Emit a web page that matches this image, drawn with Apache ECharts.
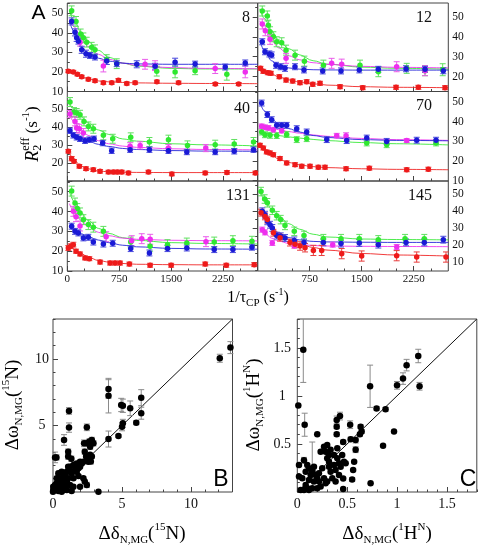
<!DOCTYPE html>
<html><head><meta charset="utf-8">
<script src="https://cdn.jsdelivr.net/npm/echarts@6/dist/echarts.min.js"></script>
<style>html,body{margin:0;padding:0;background:#fff}#c{width:480px;height:554px}</style>
</head><body><div id="c"></div>
<script>
// ---------------- DATA ----------------
// Panel A : [1/tauCP, R2eff, error]
const panelNames = ['8','12','40','70','131','145'];
const xTickLabelsLeft = [0, 750, 1500, 2250];
const xTickLabelsRight = [750, 1500, 2250];
const curveX = [30, 100, 200, 300, 450, 600, 800, 1000, 1500, 2000, 2750];

const p8R = [[15,20.4,0.8],[87,20.0,0.8],[145,18.8,0.8],[208,17.5,0.8],[304,16.2,0.8],[400,15.5,0.8],[521,14.5,0.8],[642,14.5,0.8],[738,15.8,0.8],[859,14.1,0.8],[980,14.5,0.8],[1294,15,0.8],[1607,14.5,0.8],[2138,13.8,0.8],[2475,13.8,0.8]];
const p8G = [[63,51.2,2.5],[126,45.8,2.5],[193,39.4,2.5],[232,37.4,2.5],[280,35.2,2.5],[352,32.6,2.5],[400,31.3,2.5],[569,26.3,2.5],[714,24.2,2.5],[1292,20.4,2.5],[1557,20,3],[1846,20.6,2],[2304,18.8,3]];
const p8M = [[184,35.2,2],[521,23,3],[1123,23.9,2.5],[1268,23.2,2.5],[2136,21.7,2.5],[2570,20,3]];
const p8B = [[63,45.8,1.8],[111,40.2,1.8],[135,37.4,1.8],[160,35.7,1.5],[208,31.3,1.8],[270,29.3,1.8],[328,28.4,1.5],[400,27.6,1.5],[569,25.6,1.8],[714,24.2,1.5],[1003,23.9,1.8],[1268,22.9,1.5],[1557,25,2],[1846,24,1.5],[2281,22.5,1.5],[2570,24.6,1.5]];
const c8R = [20.3,19.3,17.8,16.5,15.4,14.9,14.6,14.4,14.2,14.1,14];
const c8G = [51,46.5,40,35.5,31,27.5,24.5,23,21.8,21.5,21.5];
const c8M = [47,43,37,33,29,26.5,24.5,23.3,22.2,21.8,21.6];
const c8B = [46,40.5,33,29.5,27,25.5,24.5,24.1,23.9,23.9,23.9];

const p12R = [[40,24.2,1],[80,22.7,1],[145,22,1],[190,21.7,1],[312,20,1],[409,18.3,1],[505,17.8,1],[610,17,1],[707,17.5,1],[794,16.2,1],[899,16.7,1],[1188,15,1],[1515,14.5,1],[1996,14.7,1],[2318,14.7,1],[2703,14.5,1]];
const p12G = [[66,52.9,2.5],[139,50.4,2.5],[154,45.8,2.5],[178,42.5,2.5],[226,40,2.5],[274,37.5,2.5],[346,37,2.5],[409,33.3,2.5],[539,30.8,2.5],[674,27.8,2.5],[948,25.8,2.5],[1476,25.8,2.5],[1741,22.5,2.5],[2150,24.2,2.5],[2414,23,2.5],[2669,23.5,3]];
const p12M = [[66,46.4,2.5],[110,43,2.5],[178,38.7,2.5],[409,29.2,2.5],[1067,26.7,2.5],[1212,26.3,2.5],[2005,25,2.5],[2414,23,2.5]];
const p12B = [[66,37.5,1.5],[105,32.5,1.5],[168,31.4,1.5],[202,30.9,1.5],[264,25.7,1.5],[332,25,1.5],[394,24.2,1.5],[538,25,1.5],[668,23.4,1.5],[938,22.9,1.5],[1202,22.9,1.5],[1466,23.4,1.5],[1740,23.7,1.5],[2140,24,1.5],[2414,23.7,1.5],[2678,23,1.5]];
const c12R = [24.5,23,21.3,20,18.4,17.4,16.5,15.8,15,14.7,14.5];
const c12G = [54,49,43,38.5,34,31,28,26.3,24.8,24.2,23.8];
const c12M = [48,43.5,38,34.5,30.5,28.5,27,26.2,25.2,24.7,24.4];
const c12B = [38,33,28,25.8,24.4,23.8,23.5,23.4,23.3,23.3,23.3];

const p40R = [[15,26.6,1],[63,22.5,1.2],[97,21,1],[174,18.2,1],[270,16.9,1],[376,16.3,1],[473,15.4,1],[594,15,1],[666,15,1],[724,15,1],[787,15,1],[883,14.5,1],[1172,15,1],[1510,13.9,1],[1992,14.5,1],[2306,14.8,1],[2716,14.5,1]];
const p40G = [[39,54.1,2.5],[97,48.5,2.5],[135,48,2.5],[184,47,2.5],[241,43.3,2.5],[304,40.5,2.5],[376,39.2,2.5],[521,35.5,2.5],[656,33.6,2.5],[916,34.4,2.5],[1186,31.8,2.5],[1461,33.1,2.5],[1736,29.9,2.5],[2136,30.3,2.5],[2411,30.7,2.5],[2690,31.8,2.5]];
const p40M = [[39,47.4,2],[111,43.3,2.5],[135,39.6,2.5],[174,39.2,2.5],[232,36.8,2.5],[907,29.4,2],[1052,29.9,2],[1461,28.4,2],[2000,28.4,2]];
const p40B = [[39,38.1,1.5],[87,35.5,1.5],[135,34.4,1.5],[184,33.6,1.5],[256,32.5,1.5],[318,33.1,1.5],[386,33.6,1.5],[511,31.2,1.5],[641,26.9,1.5],[907,27.5,1.5],[1186,27.5,1.5],[1461,26.9,1.5],[1726,26.2,1.5],[2136,26.2,1.5],[2411,26.6,1.5],[2690,27.5,1.5]];
const c40R = [26,21.5,18.3,16.8,15.6,15.1,14.9,14.8,14.7,14.7,14.7];
const c40G = [53.5,50,46,42.5,38.5,36,33.5,32.3,30.8,30.2,29.6];
const c40M = [47,43,38.5,35.5,32.5,30.8,29.5,28.8,28,27.6,27.4];
const c40B = [37.5,35.8,33.8,32.3,30.5,29.3,28.2,27.6,27,26.7,26.6];

const p70R = [[33,28,1],[81,26.6,1],[129,24.6,1],[178,24.1,1],[226,23.2,1],[322,21.2,1],[418,19,1],[539,18.1,1],[635,17.3,1],[755,17.3,1],[875,16.8,1],[971,16.8,1],[1275,16,1],[1611,16.3,1],[2150,15.5,1],[2462,15.8,1]];
const p70G = [[57,34.8,1.5],[105,33.4,1.5],[178,33.1,1.5],[274,33,1.5],[418,33.5,1.5],[563,30.9,1.5],[707,31.4,1.5],[1573,29.2,1.5],[1861,28.3,1.5],[2573,29.2,1.5]];
const p70M = [[57,37.7,1.2],[105,37.2,1.2],[154,36.9,1.2],[226,36,1.2],[346,35.5,1.2],[1140,32.9,1.2],[1275,32.9,1.5],[2150,30.4,1]];
const p70B = [[57,49.6,1.5],[139,43.7,1.5],[202,41.1,1.5],[274,38.2,1.5],[346,38.2,1.5],[418,38.2,1.5],[563,36.5,1.5],[707,34.8,1.5],[996,30.9,1.5],[1284,30.4,1.5],[1573,31.7,1.5],[1861,30,1.5],[2294,30.6,1.5],[2573,30.6,1.5]];
const c70R = [28.5,26,23,21,19.2,18,17.1,16.6,16,15.7,15.5];
const c70G = [35,34.3,33.5,33,32.3,31.7,31,30.4,29.4,28.8,28.2];
const c70M = [38.5,37.8,36.8,36,35,34.2,33.3,32.6,31.5,30.9,30.5];
const c70B = [50,45.5,41.5,39,36.5,34.8,33,32,30.9,30.5,30.3];

const p131R = [[15,21.6,1.2],[48,22.5,1.2],[87,23.3,1.2],[126,20,1],[184,18.6,1],[256,16.6,1],[318,16.2,1],[473,14.5,1],[618,14,1],[690,14,1],[762,14,1],[897,13.5,1],[1196,12.9,1],[1500,12.9,1],[1992,13.5,1],[2296,12.9,1],[2700,13.2,1]];
const p131G = [[63,50.3,2.5],[111,44.3,2.5],[145,41.5,2.5],[184,39.3,2.5],[232,35.9,2.5],[304,33.4,2.5],[376,32.1,2.5],[521,30,2.5],[916,24.6,2.5],[1196,22.5,2.5],[1447,23.3,2.5],[1726,24.1,2.5],[2122,24.6,2.5],[2392,25.3,2.5],[2667,25,2.5]];
const p131M = [[87,40.1,2.5],[126,37.4,2.5],[184,32.7,2.5],[561,27.3,2.5],[930,25.3,2.5],[1075,26.3,2.5],[1197,26,2.5],[2003,24.8,2.5]];
const p131B = [[63,32.6,1.5],[111,30,1.5],[160,29.2,1.5],[232,26.7,1.5],[304,27,1.5],[376,24.6,1.5],[521,23.6,1.5],[656,24,1.5],[916,21.3,1.5],[1186,19.1,1.5],[1447,21.3,1.5],[1726,21.6,1.5],[2122,20.8,1.5],[2392,20.8,1.5],[2667,22,1.5]];
const c131R = [22.5,21,18.8,17,15.3,14.5,13.8,13.4,13.2,13.1,13.1];
const c131G = [50,45,39.5,35.5,31.5,29,26.8,25.5,24.3,23.9,23.6];
const c131M = [44,40,35.5,32.5,29.5,27.8,26.6,26,25.5,25.3,25.2];
const c131B = [32,30.5,28.8,27.3,25.6,24.3,23,22.2,21.4,21.1,21];

const p145R = [[48,39,2],[105,36.8,2],[139,34.9,2],[226,27.2,2],[322,24.3,2],[466,21.4,2],[539,20.4,2],[611,19.4,2.5],[683,18.4,2.5],[803,16.8,3],[923,16.8,3],[1212,14.9,3],[1500,13.5,3],[2005,13.7,3],[2294,12.9,3],[2717,12.9,3]];
const p145G = [[48,51.4,2.5],[100,47,2.5],[139,44.8,2.5],[211,40.4,2.5],[274,37.2,2.5],[332,34.9,2.5],[394,31.5,2.5],[528,28,2.5],[668,25.6,2.5],[947,23.7,2.5],[1202,23.7,2.5],[1466,23.7,2.5],[1740,23,2.5],[2126,23.7,2.5],[2404,23.7,2.5]];
const p145M = [[66,29,1.5],[105,27.4,1.5],[211,21.2,1.5],[528,19.6,1.5],[1082,20.2,1.5],[2006,18.8,1.5]];
const p145B = [[66,39.8,2],[105,37.8,2],[139,33.9,2],[178,31.9,2],[211,30,2],[274,25.5,2],[332,25.1,2],[394,24.1,2],[528,22.7,2],[668,21.5,2],[947,21.5,2],[1202,20.8,2],[1466,21.2,2],[1740,20.2,2],[2140,21.5,2],[2404,21.5,2],[2678,23.1,2]];
const c145R = [40,36.5,31,27.3,23.3,20.8,18.5,17,15,14.1,13.5];
const c145G = [51.5,47,41,37,32.5,29.3,26.3,24.7,23.5,23.2,23];
const c145M = [30,27,24,22.3,20.9,20.2,19.7,19.4,19.2,19.1,19];
const c145B = [41,35.5,30,27,24.3,23,22.1,21.8,21.6,21.5,21.5];

// Panel B : [delta_delta(15N), delta_omega(15N), error]
const pointsB = [[12.85,10.85,0.45],[12.08,10.05,0.3],[4.02,7.74,0.7],[4.02,7.24,1.3],[4.94,6.54,0.5],[5.06,6.48,0.5],[5.59,6.29,0.55],[6.39,7.09,0.6],[6.39,5.92,0.45],[6.03,5.21,0.15],[5.06,5.16,0.3],[5.0,4.9,0.3],[4.74,4.21,0.1],[4.02,3.98,0.6],[1.16,6.09,0.25],[1.16,4.84,0.35],[2.45,4.86,0.25],[0.8,3.91,0.4],[0.15,2.6,0.4],[0.25,2.6,0.2],[1.1,3.03,0.2],[1.1,2.66,0.2],[1.33,2.5,0.2],[2.25,3.66,0.25],[2.45,3.66,0.2],[2.64,3.79,0.2],[2.81,3.91,0.2],[2.93,3.66,0.2],[2.69,3.4,0.2],[2.3,3.03,0.2],[2.4,2.66,0.2],[2.55,2.5,0.2],[2.74,2.3,0.2],[3.29,0.02,0],
 [1.23,1.9,0.1],[1.48,2.03,0.1],[1.72,2.15,0.1],[1.96,2.28,0.1],[2.08,2.15,0.1],[2.2,2.28,0.1],[1.84,1.78,0.1],[1.6,1.65,0.1],[1.23,1.53,0.1],[1.0,1.53,0.1],[0.87,1.28,0.1],[0.75,1.15,0.1],[0.63,1.03,0.1],[0.51,0.9,0.1],[0.39,0.78,0.1],[0.27,0.65,0.1],[0.15,0.53,0.1],[0.02,0.4,0.1],[0.02,0.15,0],[0.15,0.15,0],[0.51,0.28,0],[0.87,0.4,0],[1.23,0.53,0],[1.48,1.03,0.1],[1.84,1.2,0.1],[2.2,1.03,0.1],[1.48,0.4,0],[0.75,0.15,0],[1.35,0.08,0],[1.96,0.4,0],[2.3,0.78,0],[2.45,0.53,0.2],[0.27,1.03,0.1],[0.39,1.4,0.1],[0.63,1.53,0.1],[1.1,1.03,0.1],[1.0,0.78,0],[0.75,0.65,0],[0.51,0.53,0],[0.27,0.28,0],[1.1,1.9,0.1],[1.35,1.4,0.1],[1.72,1.53,0.1],[1.96,1.9,0.1],[2.55,2.28,0.1],[2.69,2.8,0.1],[2.81,2.66,0.1],[1.0,0.15,0],[0.63,0.02,0],[0.0,0.02,0],[0.39,0.08,0],[0.87,0.78,0]];
const diagB = [[0,0],[13,13]];

// Panel C : [delta_delta(1HN), delta_omega(1HN), error]
const pointsC = [[0.06,1.48,0.34],[0.01,0.9,0],[0.074,0.70,0.12],[0.73,1.10,0.22],[0.795,0.87,0.02],[0.885,0.86,0.02],[1.0,1.11,0.04],[1.06,1.18,0.06],[1.096,1.32,0.06],[1.213,1.415,0.07],[1.226,1.10,0.04],[0.97,0.63,0],[0.86,0.48,0],[0.735,0.09,0],[0.635,0.68,0.02],[0.645,0.63,0.02],[0.628,0.6,0.02],[0.53,0.70,0.04],[0.428,0.79,0.04],[0.395,0.75,0.04],[0.395,0.68,0.02],[0.395,0.6,0.02],[0.46,0.52,0.02],[0.585,0.44,0.03],[0.585,0.54,0.03],[0.535,0.55,0.02],[0.2,0.6,0],[0.56,0.23,0],[0.55,0.13,0.02],[0.46,0.14,0],[0.46,0.03,0],[0.15,0.22,0.3],
 [0.017,0.28,0],[0.017,0.16,0],[0.067,0.33,0.03],[0.1,0.28,0],[0.117,0.246,0],[0.05,0.142,0],[0.084,0.073,0],[0.134,0.177,0],[0.15,0.21,0],[0.167,0.108,0],[0.2,0.142,0],[0.217,0.194,0],[0.234,0.42,0],[0.25,0.246,0],[0.268,0.47,0],[0.284,0.42,0],[0.3,0.49,0],[0.318,0.385,0],[0.318,0.316,0],[0.334,0.21,0],[0.351,0.142,0],[0.284,0.09,0],[0.234,0.056,0],[0.2,0.038,0],[0.15,0.038,0],[0.1,0.038,0],[0.067,0.02,0],[0.034,0.02,0],[0.368,0.28,0],[0.384,0.23,0],[0.401,0.35,0],[0.418,0.3,0],[0.435,0.264,0],[0.468,0.316,0],[0.485,0.3,0],[0.401,0.454,0],[0.418,0.177,0],[0.3,0.108,0],[0.268,0.142,0],[0.184,0.177,0],[0.334,0.44,0],[0.368,0.385,0],[0.3,0.35,0],[0.45,0.385,0],[0.318,0.264,0],[0.217,0.108,0],[0.167,0.264,0],[0.084,0.21,0],[0.117,0.125,0],[0.384,0.108,0],[0.57,0.316,0],[0.117,0.02,0]];
const diagC = [[0,0],[1.8,1.8]];

// ---------------- LAYOUT / STYLE ----------------
const SERIF = '"Liberation Serif", "Times New Roman", serif';
const SANS = '"Liberation Sans", Arial, sans-serif';
const colors = {G:'#2fe82f', M:'#ee2eee', B:'#1a1ad6', R:'#ee1a1a'};
const errColors = {G:'#5fe05f', M:'#ea5cea', B:'#4848dc', R:'#e83c3c'};
const order = ['G','M','B','R'];
const AX = '#444';

const panelDefs = [
  {name:'8',   pts:{R:p8R,G:p8G,M:p8M,B:p8B},       cur:{R:c8R,G:c8G,M:c8M,B:c8B},       col:0,row:0,ymin:10,ymax:55.2,yLab:[10,20,30,40,50]},
  {name:'12',  pts:{R:p12R,G:p12G,M:p12M,B:p12B},   cur:{R:c12R,G:c12G,M:c12M,B:c12B},   col:1,row:0,ymin:12.6,ymax:56.9,yLab:[20,30,40,50]},
  {name:'40',  pts:{R:p40R,G:p40G,M:p40M,B:p40B},   cur:{R:c40R,G:c40G,M:c40M,B:c40B},   col:0,row:1,ymin:10,ymax:60,yLab:[20,30,40,50]},
  {name:'70',  pts:{R:p70R,G:p70G,M:p70M,B:p70B},   cur:{R:c70R,G:c70G,M:c70M,B:c70B},   col:1,row:1,ymin:9.75,ymax:55.5,yLab:[10,20,30,40,50]},
  {name:'131', pts:{R:p131R,G:p131G,M:p131M,B:p131B}, cur:{R:c131R,G:c131G,M:c131M,B:c131B}, col:0,row:2,ymin:10,ymax:55.4,yLab:[10,20,30,40,50]},
  {name:'145', pts:{R:p145R,G:p145G,M:p145M,B:p145B}, cur:{R:c145R,G:c145G,M:c145M,B:c145B}, col:1,row:2,ymin:4.7,ymax:57.6,yLab:[10,20,30,40,50]}
];
const colLeft = [67.3, 257.7], colW = [190.4, 190.6];
const rowTop = [3, 91.5, 181], rowH = [88.5, 89.5, 90];
const numPos = [[250,18],[432,18],[250,109],[432,106],[250,196],[432,196]];

const grids=[], xAxes=[], yAxes=[], series=[], graphics=[];

function range(a,b,s){const r=[];for(let v=a;v<=b+1e-9;v+=s)r.push(+v.toFixed(6));return r;}
const plainFmt = v => String(+(+v).toFixed(6));

function axisPair(dim, g, min, max, pos, labVals, majVals, minVals, lab) {
  const base = {type:'value', gridIndex:g, min, max, position:pos, scale:true,
    axisLine:{show:false}, splitLine:{show:false}};
  const major = Object.assign({}, base, {
    axisTick:{show:true, inside:true, length:5, customValues:majVals, lineStyle:{color:AX,width:1}},
    axisLabel:Object.assign({show:true, customValues:labVals, color:'#111', fontFamily:SERIF, hideOverlap:false, formatter:plainFmt}, lab)
  });
  const minor = Object.assign({}, base, {
    axisTick:{show:true, inside:true, length:2.5, customValues:minVals, lineStyle:{color:AX,width:1}},
    axisLabel:{show:false}
  });
  const arr = dim==='x'?xAxes:yAxes;
  arr.push(major, minor);
}

function errRender(color, ymin, ymax, cap) {
  return function(params, api) {
    const x = api.value(0), y = api.value(1), e = api.value(2);
    if (!e) return null;
    const lo = api.coord([x, Math.max(y-e, ymin)]), hi = api.coord([x, Math.min(y+e, ymax)]);
    const st = {stroke:color, lineWidth:1};
    const ch = [{type:'line', shape:{x1:lo[0],y1:lo[1],x2:hi[0],y2:hi[1]}, style:st}];
    if (y-e >= ymin) ch.push({type:'line', shape:{x1:lo[0]-cap,y1:lo[1],x2:lo[0]+cap,y2:lo[1]}, style:st});
    if (y+e <= ymax) ch.push({type:'line', shape:{x1:hi[0]-cap,y1:hi[1],x2:hi[0]+cap,y2:hi[1]}, style:st});
    return {type:'group', children:ch};
  };
}

panelDefs.forEach((p, g) => {
  grids.push({left:colLeft[p.col], top:rowTop[p.row], width:colW[p.col], height:rowH[p.row],
    show:true, borderColor:AX, borderWidth:1, backgroundColor:'transparent'});
  const showX = p.row === 2;
  const xLab = showX ? (p.col===0 ? xTickLabelsLeft : xTickLabelsRight) : [];
  axisPair('x', g, 0, 2750, 'bottom', xLab, [0,750,1500,2250], range(250,2500,250),
    {fontSize:11, margin:3});
  const majY = range(Math.ceil(p.ymin/10)*10, p.ymax, 10);
  const minY = range(Math.ceil((p.ymin-5)/10)*10+5, p.ymax, 10).filter(v=>v>p.ymin);
  axisPair('y', g, p.ymin, p.ymax, p.col===0?'left':'right', p.yLab, majY, minY,
    {fontSize:11.5, margin:4});
  const xi = 2*g, yi = 2*g;
  order.forEach(k => {
    series.push({type:'line', xAxisIndex:xi, yAxisIndex:yi, data:curveX.map((x,i)=>[x,p.cur[k][i]]),
      smooth:0.35, smoothMonotone:'x', showSymbol:false, symbol:'none', clip:true, silent:true, z:1,
      lineStyle:{color:colors[k], width:1, opacity:0.85}});
  });
  order.forEach(k => {
    series.push({type:'custom', xAxisIndex:xi, yAxisIndex:yi, data:p.pts[k], z:2, silent:true,
      renderItem:errRender(errColors[k], p.ymin, p.ymax, 3), encode:{x:0,y:1}});
    series.push({type:'scatter', xAxisIndex:xi, yAxisIndex:yi, data:p.pts[k].map(d=>[d[0],d[1]]),
      symbol:'circle', symbolSize:5.5, itemStyle:{color:colors[k], opacity:1}, z:3, silent:true});
  });
  graphics.push({type:'text', x:numPos[g][0], y:numPos[g][1], z:10,
    style:{text:p.name, fontFamily:SERIF, fontSize:16, fill:'#111', textAlign:'right', align:'right', textVerticalAlign:'middle', verticalAlign:'middle'}});
});

// Panels B and C
const scatterDefs = [
  {pts:pointsB, diag:diagB, left:53, max:13, xLab:[0,5,10], yLab:[5,10], maj:[0,5,10], minr:range(1,13,1).filter(v=>v%5!==0), ymargin:11, label:'B', labX:221},
  {pts:pointsC, diag:diagC, left:297.3, max:1.8, xLab:[0,0.5,1,1.5], yLab:[0.5,1,1.5], maj:[0,0.5,1,1.5], minr:range(0.1,1.8,0.1).filter(v=>Math.abs(v*2-Math.round(v*2))>1e-6), ymargin:15, label:'C', labX:468}
];
scatterDefs.forEach((s, j) => {
  const g = 6 + j;
  grids.push({left:s.left, top:319, width:179.5, height:173, show:true, borderColor:AX, borderWidth:1, backgroundColor:'transparent'});
  axisPair('x', g, 0, s.max, 'bottom', s.xLab, s.maj, s.minr, {fontSize:14, margin:5});
  axisPair('y', g, 0, s.max, 'left', s.yLab, s.maj, s.minr, {fontSize:14, margin:s.ymargin, align:'center'});
  const xi = 2*g, yi = 2*g;
  series.push({type:'line', xAxisIndex:xi, yAxisIndex:yi, data:s.diag, showSymbol:false, symbol:'none', silent:true, z:1,
    lineStyle:{color:'#111', width:1}});
  series.push({type:'custom', xAxisIndex:xi, yAxisIndex:yi, data:s.pts, z:2, silent:true,
    renderItem:errRender('#8a8a8a', 0, s.max, 3), encode:{x:0,y:1}});
  series.push({type:'scatter', xAxisIndex:xi, yAxisIndex:yi, data:s.pts.map(d=>[d[0],d[1]]),
    symbol:'circle', symbolSize:6.5, itemStyle:{color:'#000', opacity:1}, z:3, silent:true});
  graphics.push({type:'text', x:s.labX, y:480, z:10,
    style:{text:s.label, fontFamily:SANS, fontSize:23, fill:'#000', textAlign:'center', align:'center', textVerticalAlign:'middle', verticalAlign:'middle'}});
});

// ---------- composite titles ----------
const mctx = document.createElement('canvas').getContext('2d');
function richTitle(parts, cx, cy, rot) {
  let x = 0; const items = [];
  parts.forEach(p => {
    const fam = p.f || SERIF;
    const font = (p.it ? 'italic ' : '') + p.s + 'px ' + fam;
    mctx.font = font;
    const w = mctx.measureText(p.t).width;
    items.push({type:'text', x:x, y:p.dy||0,
      style:{text:p.t, fontFamily:fam, fontSize:p.s, fontStyle:p.it?'italic':'normal', fill:'#000',
        textAlign:'left', align:'left', textVerticalAlign:'middle', verticalAlign:'middle'}});
    if (p.adv !== false) x += w;
  });
  items.forEach(it => it.x -= x/2);
  return {type:'group', x:cx, y:cy, rotation:rot||0, z:10, children:items};
}
graphics.push({type:'text', x:38.5, y:13, z:10, style:{text:'A', fontFamily:SANS, fontSize:21, fill:'#000', textAlign:'center', align:'center', textVerticalAlign:'middle', verticalAlign:'middle'}});
graphics.push(richTitle([
  {t:'R', s:18, it:true},
  {t:'2', s:12, dy:5, adv:false},
  {t:'eff', s:12, dy:-7},
  {t:' (s', s:17},
  {t:'-1', s:11, dy:-7},
  {t:')', s:17}
], 33, 134, Math.PI/2));
graphics.push(richTitle([
  {t:'1/τ', s:16},
  {t:'CP', s:11, dy:5},
  {t:' (s', s:16},
  {t:'-1', s:10, dy:-6},
  {t:')', s:16}
], 258, 298, 0));
function deltaTitle(sym, nuc, cx, cy, rot) {
  const parts = [{t:'Δ'+sym, s:19}, {t:'N,MG', s:11, dy:6}, {t:'(', s:19}];
  nuc.forEach(n => parts.push(n));
  parts.push({t:')', s:19});
  return richTitle(parts, cx, cy, rot);
}
graphics.push(deltaTitle('δ', [{t:'15', s:11, dy:-7},{t:'N', s:19}], 142, 534, 0));
graphics.push(deltaTitle('ω', [{t:'15', s:11, dy:-7},{t:'N', s:19}], 13, 405, Math.PI/2));
graphics.push(deltaTitle('δ', [{t:'1', s:11, dy:-7},{t:'H', s:19},{t:'N', s:11, dy:-7}], 387, 534, 0));
graphics.push(deltaTitle('ω', [{t:'1', s:11, dy:-7},{t:'H', s:19},{t:'N', s:11, dy:-7}], 254, 405, Math.PI/2));

const chart = echarts.init(document.getElementById('c'), null, {renderer:'canvas'});
chart.setOption({animation:false, backgroundColor:'#fff', grid:grids, xAxis:xAxes, yAxis:yAxes, series, graphic:graphics});
</script></body></html>
